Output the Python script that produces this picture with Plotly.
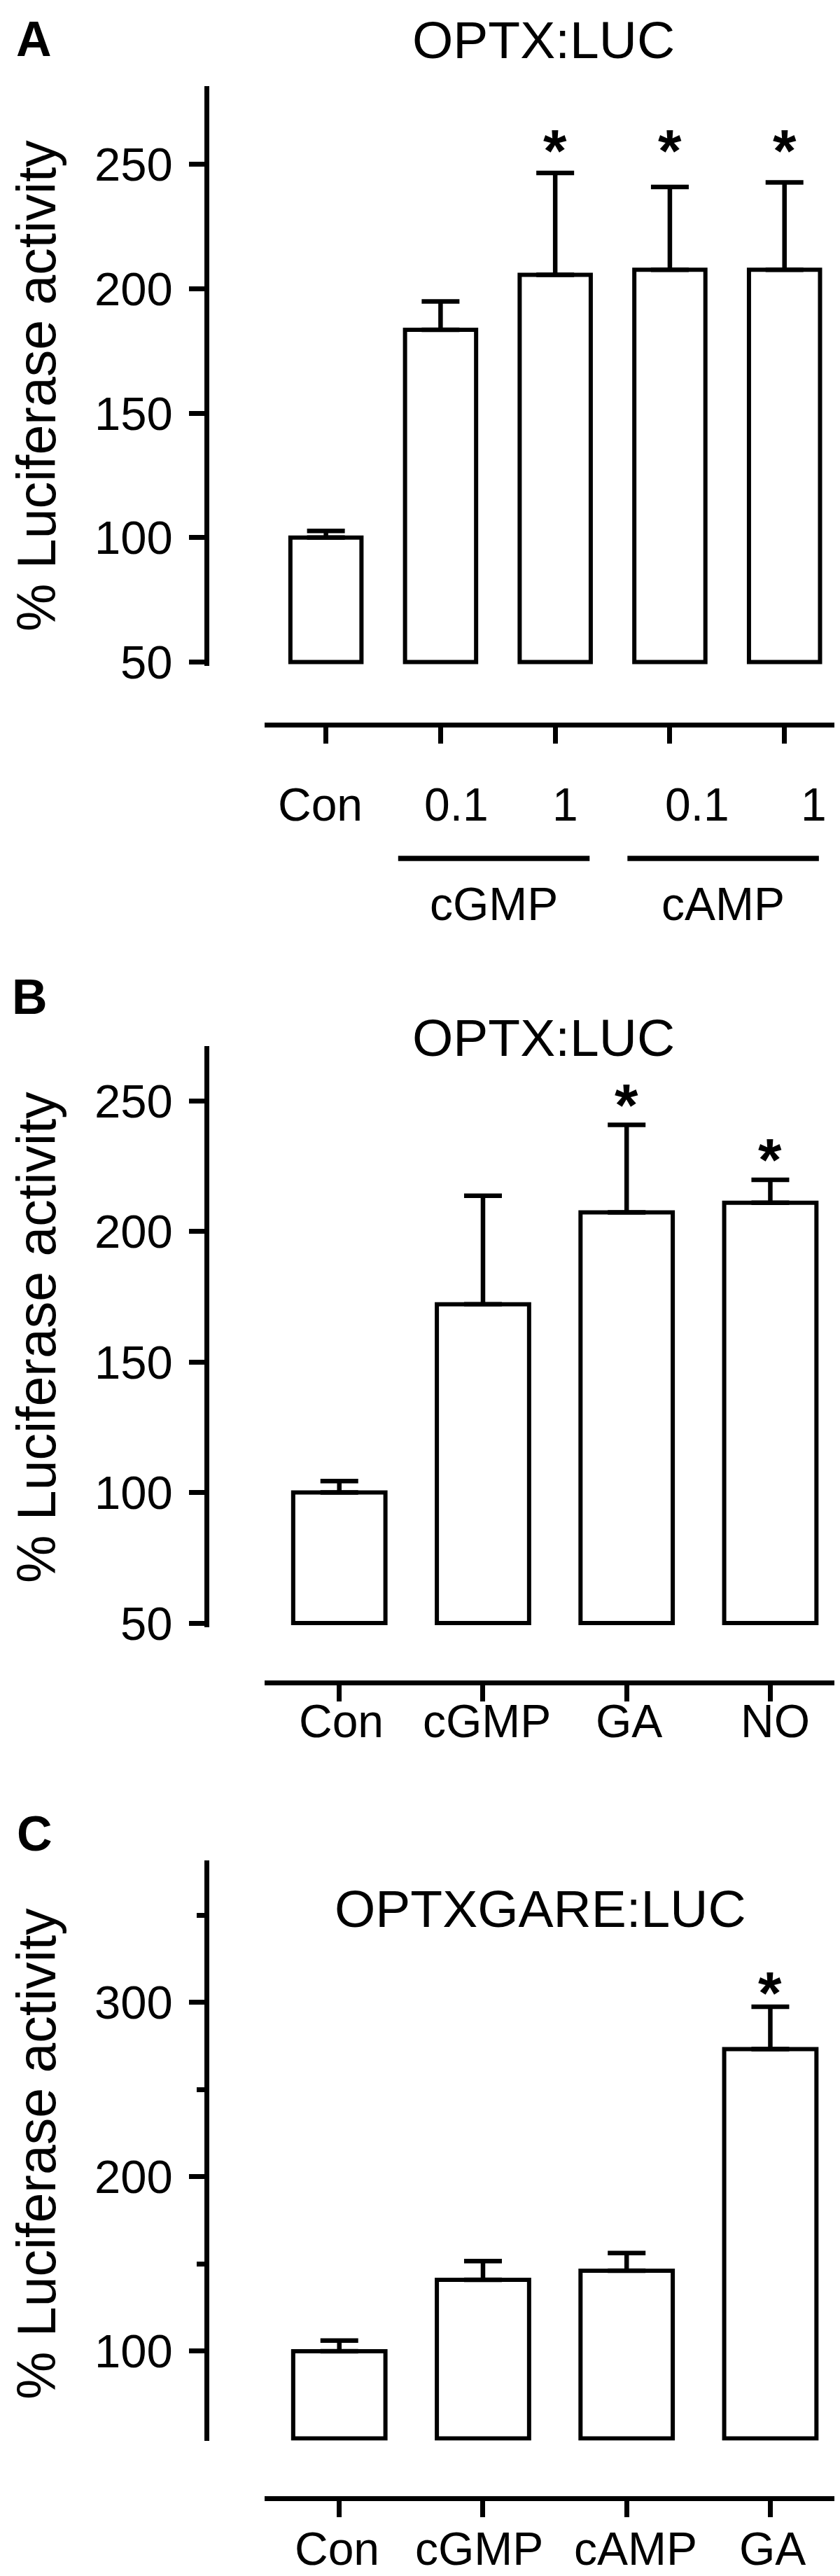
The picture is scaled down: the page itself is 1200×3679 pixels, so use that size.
import plotly.graph_objects as go

W, H = 1200, 3679
FONT = "Liberation Sans, Arial, Helvetica, sans-serif"

# ---------------- data ----------------
# Panel A
a_labels = ["Con", "0.1", "1", "0.1", "1"]
a_values = [100.0, 183.5, 205.6, 207.6, 207.6]
a_sem = [2.7, 11.4, 40.9, 33.3, 35.1]
a_sig = [False, False, True, True, True]
a_groups = [("cGMP", 1, 2), ("cAMP", 3, 4)]
a_yticks = [50, 100, 150, 200, 250]
a_title = "OPTX:LUC"

# Panel B
b_labels = ["Con", "cGMP", "GA", "NO"]
b_values = [100.0, 172.1, 207.3, 211.0]
b_sem = [4.4, 41.6, 33.5, 8.8]
b_sig = [False, False, True, True]
b_yticks = [50, 100, 150, 200, 250]
b_title = "OPTX:LUC"

# Panel C
c_labels = ["Con", "cGMP", "cAMP", "GA"]
c_values = [100.0, 140.9, 146.1, 273.2]
c_sem = [6.1, 10.8, 10.2, 24.3]
c_sig = [False, False, False, True]
c_yticks = [100, 200, 300]
c_yminor = [150, 250, 350]
c_title = "OPTXGARE:LUC"

y_title = "% Luciferase activity"
BASE = 50

# ---------------- helpers ----------------
def px(x):
    return x / W

def py(y):
    return 1 - y / H

AXW = 7      # axis line / tick width
BARW = 6     # bar outline width
ERRW = 6.5   # error bar width

fig = go.Figure()

panels = [
    dict(key="", letter="A", labels=a_labels, values=a_values, sem=a_sem, sig=a_sig,
         yticks=a_yticks, yminor=None, title=a_title,
         ytop=115, ybot=943, yrange=[48.45, 281.4], xrange=[-0.535, 4.533],
         xline=1027, barw=0.62, lab_y=1141, lab_shift=[-8, 23, 14, 39, 42],
         title_xy=(768, 49), letter_xy=(40, 48), ytitle_y=543, star_mode="common", star_px=50),
    dict(key="2", letter="B", labels=b_labels, values=b_values, sem=b_sem, sig=b_sig,
         yticks=b_yticks, yminor=None, title=b_title,
         ytop=1486, ybot=2315.5, yrange=[48.53, 271.0], xrange=[-0.52, 3.524],
         xline=2395, barw=0.642, lab_y=2450, lab_shift=[3, 6, 3, 7],
         title_xy=(768, 1474), letter_xy=(34, 1416), ytitle_y=1902, star_mode="each", star_px=47),
    dict(key="3", letter="C", labels=c_labels, values=c_values, sem=c_sem, sig=c_sig,
         yticks=c_yticks, yminor=c_yminor, title=c_title,
         ytop=2649, ybot=3477.7, yrange=[48.7, 381.4], xrange=[-0.52, 3.524],
         xline=3560, barw=0.642, lab_y=3632, lab_shift=[-3, -5, 13, 3],
         title_xy=(764, 2718), letter_xy=(41, 2611), ytitle_y=3068, star_mode="each", star_px=38),
]

annotations = []
shapes = []

for p in panels:
    k = p["key"]
    xs = list(range(len(p["values"])))
    heights = [v - BASE for v in p["values"]]
    fig.add_trace(go.Bar(
        x=xs, y=heights, base=BASE, width=p["barw"],
        marker=dict(color="white", line=dict(color="black", width=BARW)),
        error_y=dict(type="data", symmetric=False, array=p["sem"],
                     arrayminus=[0] * len(xs), color="black", thickness=ERRW, width=27),
        xaxis="x" + k, yaxis="y" + k, showlegend=False, hoverinfo="skip",
    ))

    xa = dict(domain=[px(370), 1.0], range=p["xrange"], anchor="free",
              position=py(p["xline"]), showline=True, linecolor="black", linewidth=AXW,
              ticks="outside", ticklen=23, tickwidth=AXW, tickcolor="black",
              tickvals=xs, showticklabels=False, showgrid=False, zeroline=False,
              fixedrange=True)
    ya = dict(domain=[py(p["ybot"]), py(p["ytop"])], range=p["yrange"], anchor="free",
              position=px(286.5), showline=True, linecolor="black", linewidth=AXW,
              ticks="outside", ticklen=22, tickwidth=AXW, tickcolor="black",
              tickvals=p["yticks"], showticklabels=False,
              showgrid=False, zeroline=False, fixedrange=True)
    if p["yminor"]:
        ya["minor"] = dict(tickmode="array", tickvals=p["yminor"], ticks="outside",
                           ticklen=11, tickwidth=AXW, tickcolor="black", showgrid=False)
    fig.update_layout(**{"xaxis" + k: xa, "yaxis" + k: ya})

    xref = "x" + k
    yref = "y" + k
    # y tick labels
    for t in p["yticks"]:
        annotations.append(dict(x=px(241), y=t, xref="paper", yref=yref, text=str(t),
                                showarrow=False, xanchor="right", yanchor="middle",
                                font=dict(family=FONT, size=67, color="black")))
    # category labels
    for i, lab in enumerate(p["labels"]):
        annotations.append(dict(x=i, y=py(p["lab_y"]), xref=xref, yref="paper",
                                text=lab, showarrow=False, xanchor="center", yanchor="middle",
                                xshift=p["lab_shift"][i],
                                font=dict(family=FONT, size=66, color="black")))
    # significance stars
    tops = [v + e for v, e in zip(p["values"], p["sem"])]
    star_tops = [t for t, s in zip(tops, p["sig"]) if s]
    for i, s in enumerate(p["sig"]):
        if not s:
            continue
        yv = max(star_tops) if p["star_mode"] == "common" else tops[i]
        annotations.append(dict(x=i, y=yv, xref=xref, yref=yref, text="<b>*</b>",
                                showarrow=False, xanchor="center", yanchor="middle",
                                yshift=p["star_px"] - 18,
                                font=dict(family=FONT, size=86, color="black")))
    # title
    annotations.append(dict(x=px(p["title_xy"][0]), y=py(p["title_xy"][1]), xref="paper",
                            yref="paper", text=p["title"], showarrow=False,
                            xanchor="center", yanchor="middle",
                            font=dict(family=FONT, size=75, color="black")))
    # panel letter
    annotations.append(dict(x=px(p["letter_xy"][0]), y=py(p["letter_xy"][1]), xref="paper",
                            yref="paper", text="<b>" + p["letter"] + "</b>", showarrow=False,
                            xanchor="center", yanchor="middle",
                            font=dict(family=FONT, size=70, color="black")))
    # y title
    annotations.append(dict(x=px(44), y=py(p["ytitle_y"]), xref="paper", yref="paper",
                            text=y_title, textangle=-90, showarrow=False,
                            xanchor="center", yanchor="middle",
                            font=dict(family=FONT, size=77, color="black")))

# group brackets for panel A
grp_pad_l, grp_pad_r = 0.37, 0.30
for name, i0, i1 in a_groups:
    shapes.append(dict(type="line", xref="x", yref="paper",
                       x0=i0 - grp_pad_l, x1=i1 + grp_pad_r,
                       y0=py(1218), y1=py(1218), line=dict(color="black", width=7.5)))
    annotations.append(dict(x=(i0 - grp_pad_l + i1 + grp_pad_r) / 2, y=py(1283),
                            xref="x", yref="paper", text=name, showarrow=False,
                            xanchor="center", yanchor="middle",
                            font=dict(family=FONT, size=66, color="black")))

fig.update_layout(
    width=W, height=H, margin=dict(l=0, r=0, t=0, b=0),
    paper_bgcolor="white", plot_bgcolor="white",
    annotations=annotations, shapes=shapes, showlegend=False,
)

fig.write_html("out.html")
